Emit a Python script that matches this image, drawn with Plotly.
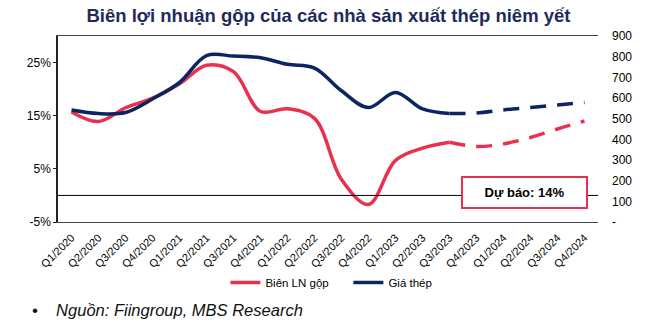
import plotly.graph_objects as go

quarters = ["Q1/2020","Q2/2020","Q3/2020","Q4/2020","Q1/2021","Q2/2021","Q3/2021","Q4/2021",
            "Q1/2022","Q2/2022","Q3/2022","Q4/2022","Q1/2023","Q2/2023","Q3/2023",
            "Q4/2023","Q1/2024","Q2/2024","Q3/2024","Q4/2024"]
# Gross margin (%) actual Q1/2020..Q3/2023
margin_actual = [15.7, 13.9, 16.5, 18.3, 21.0, 24.5, 23.3, 15.8, 16.3, 14.5, 3.0, -1.7, 6.6, 8.9, 10.0]
# Forecast Q3/2023..Q4/2024
margin_forecast = [10.0, 9.2, 9.7, 10.9, 12.5, 14.0]
# Steel price actual Q1/2020..Q3/2023
price_actual = [542, 525, 530, 595, 675, 805, 803, 795, 763, 745, 635, 554, 627, 547, 525]
price_forecast = [525, 527, 542, 554, 566, 578]

left_ticks = [-5, 5, 15, 25]
left_text = ["-5%", "5%", "15%", "25%"]
right_ticks = [0, 100, 200, 300, 400, 500, 600, 700, 800, 900]
right_text = ["-", "100", "200", "300", "400", "500", "600", "700", "800", "900"]

RED = "#E8304F"
BLUE = "#0C2461"
FONT = "Liberation Sans, Arial, sans-serif"

fig = go.Figure()
fig.add_trace(go.Scatter(x=quarters[:15], y=margin_actual, mode="lines", name="Biên LN gộp",
                         line=dict(color=RED, width=3.5, shape="spline"), yaxis="y"))
fig.add_trace(go.Scatter(x=quarters[14:], y=margin_forecast, mode="lines", showlegend=False,
                         line=dict(color=RED, width=3.5, shape="spline", dash="16px,11px"), yaxis="y"))
fig.add_trace(go.Scatter(x=quarters[:15], y=price_actual, mode="lines", name="Giá thép",
                         line=dict(color=BLUE, width=3.5, shape="spline"), yaxis="y2"))
fig.add_trace(go.Scatter(x=quarters[14:], y=price_forecast, mode="lines", showlegend=False,
                         line=dict(color=BLUE, width=3.5, shape="spline", dash="16px,11px"), yaxis="y2"))

fig.add_shape(type="line", xref="paper", yref="y", x0=0, x1=1, y0=0, y1=0,
              line=dict(color="black", width=1))

fig.update_layout(
    width=657, height=329,
    margin=dict(l=58, r=59, t=36, b=107),
    paper_bgcolor="white", plot_bgcolor="white",
    font=dict(family=FONT, size=12, color="black"),
    title=dict(text="<b>Biên lợi nhuận gộp của các nhà sản xuất thép niêm yết</b>",
               x=0.5, xanchor="center", y=1 - 16/329, yanchor="middle",
               font=dict(family=FONT, size=18.5, color="#1F2A5C")),
    xaxis=dict(type="category", categoryorder="array", categoryarray=quarters,
               range=[-0.5, 19.5], tickangle=-45, tickfont=dict(size=11),
               ticklabelstandoff=4,
               showgrid=False, showline=True, linecolor="#444", linewidth=1, mirror=True,
               ticks="", zeroline=False),
    yaxis=dict(range=[-5, 30], tickvals=left_ticks, ticktext=left_text,
               showgrid=False, showline=True, linecolor="#222", linewidth=1.5,
               ticks="outside", ticklen=3, tickcolor="#222", zeroline=False,
               tickfont=dict(size=12)),
    yaxis2=dict(range=[0, 900], tickvals=right_ticks, ticktext=right_text,
                overlaying="y", side="right", showgrid=False, showline=False,
                ticks="", zeroline=False, tickfont=dict(size=12), ticklabelstandoff=13),
    legend=dict(orientation="h", x=0.31, xanchor="left", y=-0.325, yanchor="middle",
                font=dict(size=11.5), bgcolor="rgba(0,0,0,0)", itemwidth=30,
                entrywidth=78, entrywidthmode="pixels", tracegroupgap=0),
    showlegend=True,
)

fig.add_annotation(text="<b>Dự báo: 14%</b>", xref="paper", yref="paper",
                   x=(524.5-58)/540, y=(222-192)/186, xanchor="center", yanchor="middle",
                   showarrow=False, font=dict(size=13, color="black"),
                   bgcolor="white", bordercolor=RED, borderwidth=2, borderpad=2,
                   width=119, height=25)

fig.add_annotation(text="<i>•    Nguồn: Fiingroup, MBS Research</i>", xref="paper", yref="paper",
                   x=(30-58)/540, y=(222-310)/186, xanchor="left", yanchor="middle",
                   showarrow=False, font=dict(size=16.5, color="#111"))

fig.write_html("out.html")
